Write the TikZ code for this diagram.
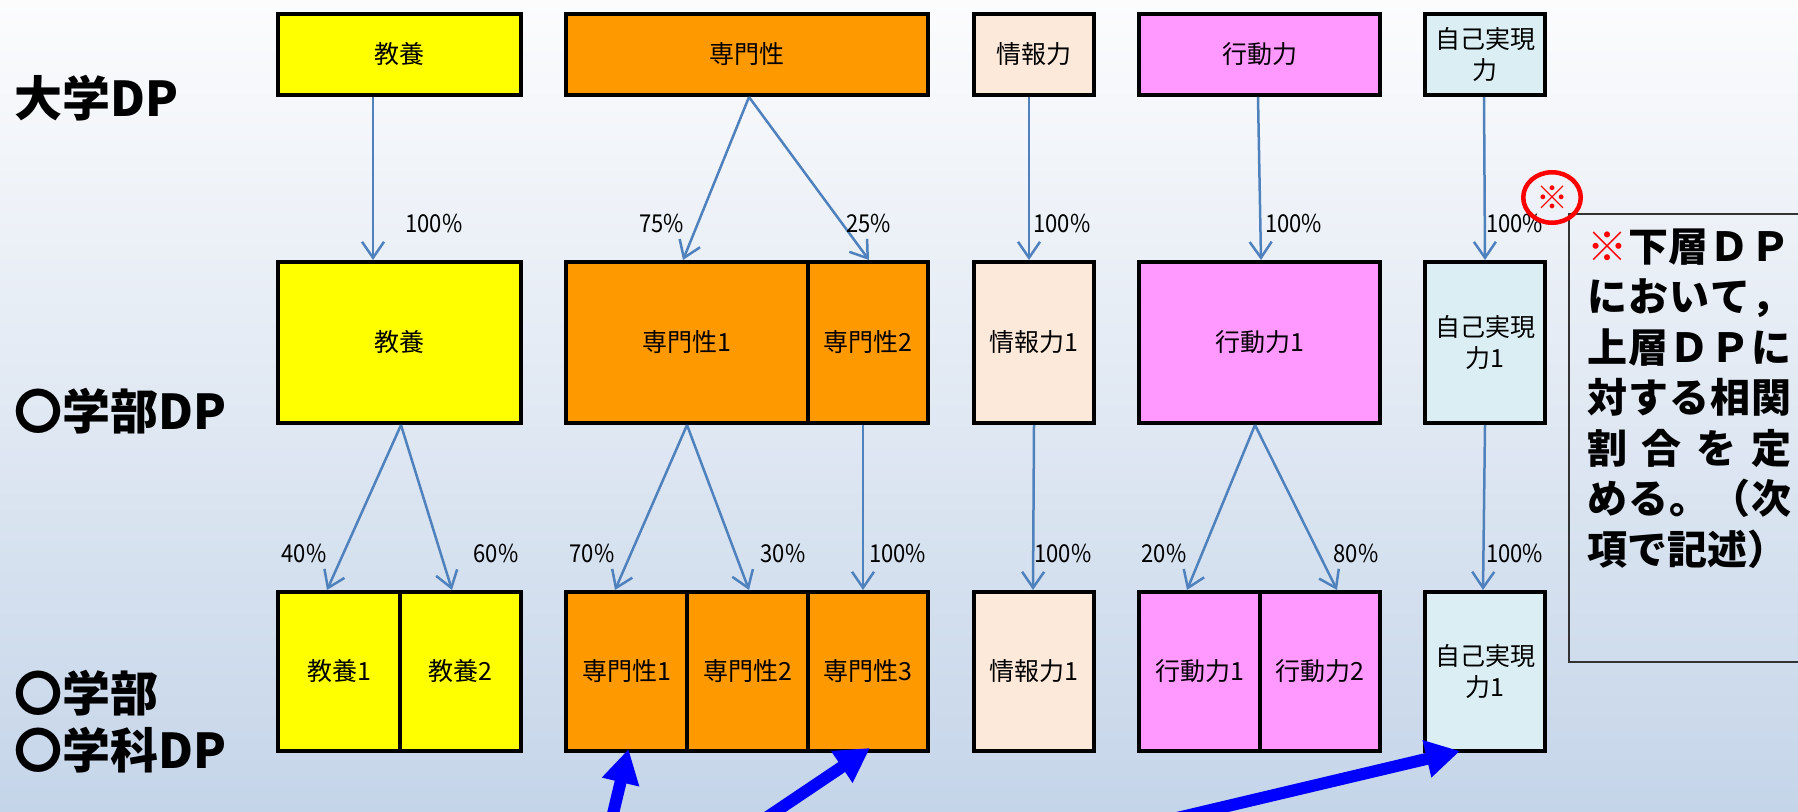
\documentclass[tikz,border=0pt]{standalone}
\usepackage{fontspec}
\usetikzlibrary{arrows.meta,shapes.geometric,calc}
\newfontfamily\jp{Noto Sans CJK JP}
\definecolor{cyel}{RGB}{255,255,0}
\definecolor{corg}{RGB}{255,153,0}
\definecolor{cpea}{RGB}{253,233,217}
\definecolor{cpnk}{RGB}{255,153,255}
\definecolor{clbl}{RGB}{218,238,243}
\definecolor{carr}{RGB}{79,129,189}
\definecolor{bgtop}{RGB}{252,252,253}
\definecolor{bgbot}{RGB}{197,213,233}
\definecolor{bigblue}{RGB}{0,0,255}
\begin{document}
\begin{tikzpicture}[x=1pt,y=-1pt,
  dpbox/.style={draw=black, line width=4pt, inner sep=0pt, align=center,
    font=\jp\fontsize{25}{31}\selectfont, text=black},
  rowa/.style={dpbox, minimum height=81pt},
  rowb/.style={dpbox, minimum height=161pt},
  rowc/.style={dpbox, minimum height=159pt},
  pct/.style={font=\jp\fontsize{22}{26}\selectfont, inner sep=0pt, text=black, yscale=1.12},
  flow/.style={draw=carr, line width=2.5pt, -{Straight Barb[length=16pt,width=22pt]}},
  big/.style={draw=bigblue, line width=12pt, -{Triangle[length=34pt,width=36pt]}},
  lab/.style={font=\jp\bfseries\fontsize{48}{57}\selectfont, inner sep=0pt, align=left, text=black},
  notebox/.style={draw=black!80, line width=1.8pt, inner sep=0pt},
  notetext/.style={font=\jp\bfseries\fontsize{40}{50.5}\selectfont, inner sep=0pt, align=left, text=black}
]
\shade[top color=bgtop, bottom color=bgbot] (0,0) rectangle (1798,811);
\useasboundingbox (0,0) rectangle (1798,811);

% left labels
\node[lab, anchor=west] (Lu) at (14,98) {大学DP};
\node[lab, anchor=west] (Lf) at (14,411) {〇学部DP};
\node[lab, anchor=west] (Ld) at (14,722) {〇学部\\〇学科DP};

% row 1
\node[rowa, fill=cyel, minimum width=243pt] (k1) at (399.5,54.5) {教養};
\node[rowa, fill=corg, minimum width=362pt] (s1) at (747,54.5) {専門性};
\node[rowa, fill=cpea, minimum width=120pt] (j1) at (1034,54.5) {情報力};
\node[rowa, fill=cpnk, minimum width=241pt] (a1) at (1259.5,54.5) {行動力};
\node[rowa, fill=clbl, minimum width=120pt] (r1) at (1485,54.5) {自己実現\\力};

% row 2
\node[rowb, fill=cyel, minimum width=243pt] (k2) at (399.5,342.5) {教養};
\node[rowb, fill=corg, minimum width=242pt] (s21) at (687,342.5) {専門性1};
\node[rowb, fill=corg, minimum width=120pt] (s22) at (868,342.5) {専門性2};
\node[rowb, fill=cpea, minimum width=120pt] (j2) at (1034,342.5) {情報力1};
\node[rowb, fill=cpnk, minimum width=241pt] (a2) at (1259.5,342.5) {行動力1};
\node[rowb, fill=clbl, minimum width=120pt] (r2) at (1485,342.5) {自己実現\\力1};

% row 3
\node[rowc, fill=cyel, minimum width=122pt] (k31) at (339,671.5) {教養1};
\node[rowc, fill=cyel, minimum width=121pt] (k32) at (460.5,671.5) {教養2};
\node[rowc, fill=corg, minimum width=121pt] (s31) at (626.5,671.5) {専門性1};
\node[rowc, fill=corg, minimum width=121pt] (s32) at (747.5,671.5) {専門性2};
\node[rowc, fill=corg, minimum width=120pt] (s33) at (868,671.5) {専門性3};
\node[rowc, fill=cpea, minimum width=120pt] (j3) at (1034,671.5) {情報力1};
\node[rowc, fill=cpnk, minimum width=121pt] (a31) at (1199.5,671.5) {行動力1};
\node[rowc, fill=cpnk, minimum width=120pt] (a32) at (1320,671.5) {行動力2};
\node[rowc, fill=clbl, minimum width=120pt] (r3) at (1485,671.5) {自己実現\\力1};

% arrows row1 -> row2
\draw[flow] ([xshift=-26.5pt]k1.south) -- ([xshift=-26.5pt]k2.north);
\draw[flow] ([xshift=2pt]s1.south) -- ([xshift=-4pt]s21.north);
\draw[flow] ([xshift=2pt]s1.south) -- ([xshift=1pt]s22.north);
\draw[flow] ([xshift=-5pt]j1.south) -- ([xshift=-5pt]j2.north);
\draw[flow] ([xshift=-1.5pt]a1.south) -- ([xshift=1.5pt]a2.north);
\draw[flow] ([xshift=-1pt]r1.south) -- (r2.north);

% arrows row2 -> row3
\draw[flow] ([xshift=1.5pt]k2.south) -- ([xshift=-12pt]k31.north);
\draw[flow] ([xshift=1.5pt]k2.south) -- ([xshift=-8.5pt]k32.north);
\draw[flow] (s21.south) -- ([xshift=-11.5pt]s31.north);
\draw[flow] (s21.south) -- ([xshift=1.5pt]s32.north);
\draw[flow] ([xshift=-5pt]s22.south) -- ([xshift=-5pt]s33.north);
\draw[flow] (j2.south) -- ([xshift=-1pt]j3.north);
\draw[flow] ([xshift=-4.5pt]a2.south) -- ([xshift=-12.5pt]a31.north);
\draw[flow] ([xshift=-4.5pt]a2.south) -- ([xshift=17pt]a32.north);
\draw[flow] (r2.south) -- ([xshift=-2pt]r3.north);

% percentages
\node[pct] (p1) at (434,223) {100\%};
\node[pct] (p2) at (661.5,223) {75\%};
\node[pct] (p3) at (868.5,223) {25\%};
\node[pct] (p4) at (1062,223) {100\%};
\node[pct] (p5) at (1293.5,223) {100\%};
\node[pct] (p6) at (1514.5,223) {100\%};
\node[pct] (q1) at (304,553) {40\%};
\node[pct] (q2) at (496,553) {60\%};
\node[pct] (q3) at (592,553) {70\%};
\node[pct] (q4) at (783,553) {30\%};
\node[pct] (q5) at (897.5,553) {100\%};
\node[pct] (q6) at (1063,553) {100\%};
\node[pct] (q7) at (1164,553) {20\%};
\node[pct] (q8) at (1356,553) {80\%};
\node[pct] (q9) at (1514.5,553) {100\%};

% note
\node[notebox, minimum width=246pt, minimum height=448pt] (nb) at (1692,438) {};
\node[notetext] (nt) at (1689,398.5) {%
\makebox[204pt][s]{{\color{red}※}\hfill 下\hfill 層\hfill Ｄ\hfill Ｐ}\\
\makebox[204pt][s]{に\hfill お\hfill い\hfill て\hfill ，}\\
\makebox[204pt][s]{上\hfill 層\hfill Ｄ\hfill Ｐ\hfill に}\\
\makebox[204pt][s]{対\hfill す\hfill る\hfill 相\hfill 関}\\
\makebox[204pt][s]{割\hfill 合\hfill を\hfill 定}\\
\makebox[204pt][s]{め\hfill る\hfill 。\hfill （\hfill 次}\\
\makebox[204pt][l]{項で記述）}};
\node[draw=red, line width=4.5pt, ellipse, minimum width=57.5pt, minimum height=50.5pt,
  inner sep=0pt, text=red, font=\jp\bfseries\fontsize{32}{32}\selectfont] (mk) at (1552,197.5) {※};

% big blue arrows
\coordinate (t1) at (611,822);
\coordinate (t2) at (760,822);
\coordinate (t3) at (1160,822);
\draw[big] (t1) -- ([xshift=2pt,yshift=4pt]s31.south);
\draw[big] (t2) -- ([xshift=2pt,yshift=5pt]s33.south);
\draw[big] (t3) -- ([xshift=-25pt,yshift=2pt]r3.south);
\end{tikzpicture}
\end{document}
